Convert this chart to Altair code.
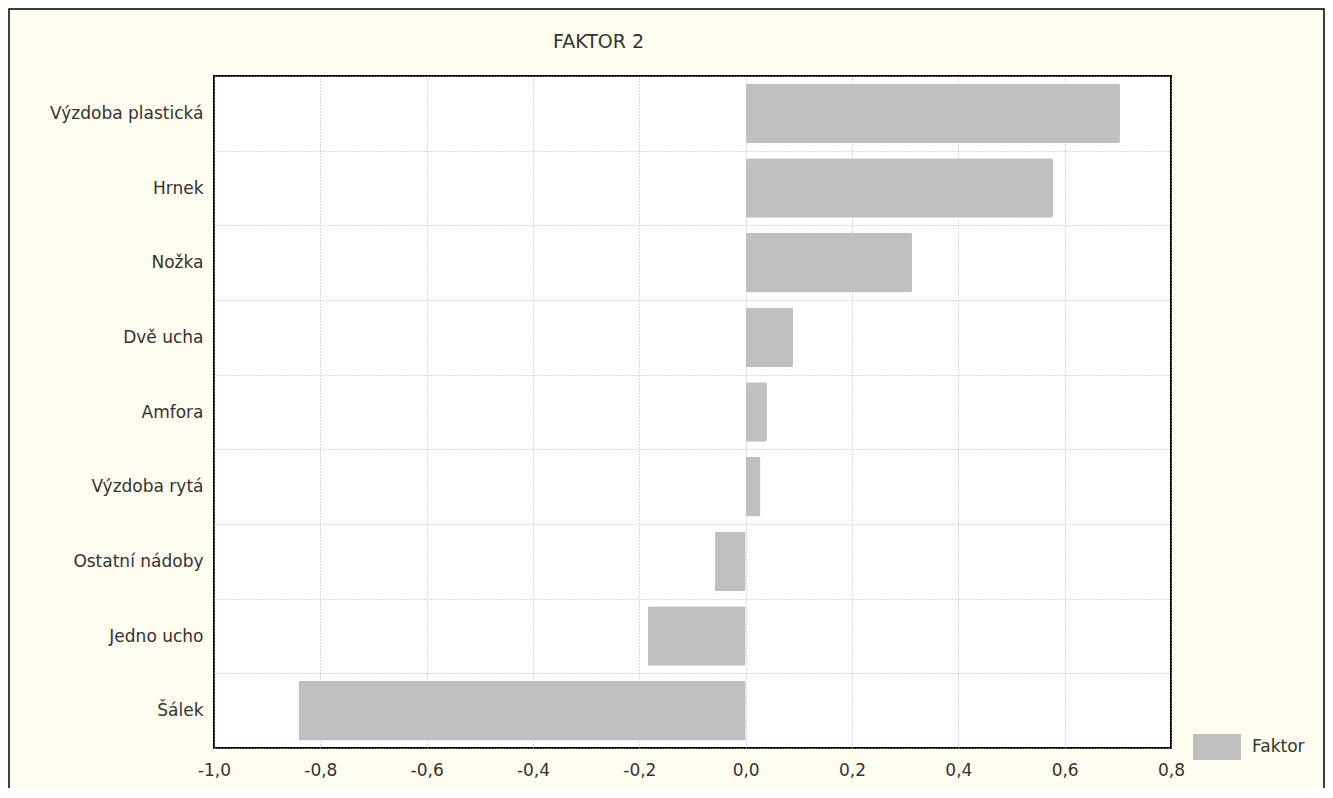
import altair as alt
import pandas as pd

categories = ["Výzdoba plastická", "Hrnek", "Nožka", "Dvě ucha", "Amfora",
              "Výzdoba rytá", "Ostatní nádoby", "Jedno ucho", "Šálek"]
values = [0.704, 0.578, 0.313, 0.089, 0.040, 0.028, -0.058, -0.184, -0.841]
x_ticks = [-1.0, -0.8, -0.6, -0.4, -0.2, 0.0, 0.2, 0.4, 0.6, 0.8]
series_name = "Faktor"
chart_title = "FAKTOR 2"

df = pd.DataFrame({"kategorie": categories, "hodnota": values,
                   "serie": [series_name] * len(categories)})

FONT = "DejaVu Sans"
TXT = "#333333"
GRID = "#b4b4b4"
W, H = 957, 672
PL, PT, PR, PB = 206, 68, 154, 40

bars = alt.Chart(df).mark_bar(height={"band": 0.8}, cornerRadius=2).encode(
    y=alt.Y("kategorie:N", sort=categories,
            scale=alt.Scale(paddingInner=0, paddingOuter=0),
            axis=alt.Axis(title=None, tickBand="extent", grid=True, gridColor=GRID,
                          gridDash=[1, 2], gridWidth=1, ticks=False, domain=False,
                          labelFont=FONT, labelFontSize=17, labelColor=TXT,
                          labelPadding=11)),
    x=alt.X("hodnota:Q", scale=alt.Scale(domain=[-1.0, 0.8], nice=False, zero=False),
            axis=alt.Axis(title=None, values=x_ticks, grid=True, gridColor=GRID,
                          gridDash=[1, 2], gridWidth=1, ticks=False, domain=False,
                          labelFont=FONT, labelFontSize=17, labelColor=TXT,
                          labelPadding=14, labelFlush=False, labelOverlap=False,
                          labelExpr="replace(replace(format(datum.value, '.1f'), '.', ','), '\u2212', '-')")),
    color=alt.Color("serie:N", scale=alt.Scale(domain=[series_name], range=["#C0C0C0"]),
                    legend=alt.Legend(title=None, orient="none", legendX=979, legendY=647,
                                      symbolType="M-1,-0.54H1V0.54H-1Z", symbolSize=2304,
                                      symbolStrokeWidth=0, symbolOpacity=1, padding=0,
                                      labelOffset=11, labelFont=FONT, labelFontSize=17,
                                      labelColor=TXT)),
)

frame = alt.Chart(pd.DataFrame({"f": [0]})).mark_rect(
    filled=False, stroke="#000000", strokeWidth=1.5, clip=False
).encode(
    x=alt.value(-PL + 1), x2=alt.value(W + PR - 1),
    y=alt.value(-PT + 1), y2=alt.value(H + PB + 20),
)

title = alt.Chart(pd.DataFrame({"t": [chart_title]})).mark_text(
    align="left", baseline="alphabetic", font=FONT, fontSize=19, color=TXT, clip=False
).encode(text="t:N", x=alt.value(339), y=alt.value(-28))

chart = alt.layer(frame, bars, title).properties(
    width=W, height=H,
    padding={"left": PL, "top": PT, "right": PR, "bottom": PB},
    autosize=alt.AutoSizeParams(type="none"),
    background="#fffcf0",
).configure_view(stroke="#000000", strokeWidth=2, fill="#ffffff")

chart.save("out.html", embed_options={"renderer": "svg", "actions": False})
